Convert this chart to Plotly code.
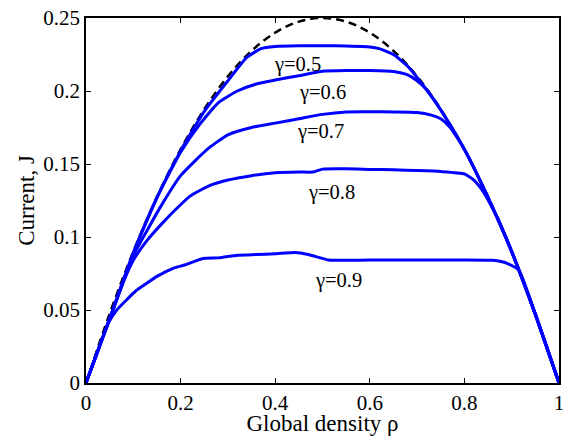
import plotly.graph_objects as go

# Theoretical curve (dashed)
rho_dash = [0, 0.05, 0.1, 0.15, 0.2, 0.25, 0.3, 0.35, 0.4, 0.45, 0.5, 0.55, 0.6, 0.65, 0.7, 0.75, 0.8, 0.85, 0.9, 0.95, 1.0]
J_dash = [0, 0.0475, 0.09, 0.1275, 0.16, 0.1875, 0.21, 0.2275, 0.24, 0.2475, 0.25, 0.2475, 0.24, 0.2275, 0.21, 0.1875, 0.16, 0.1275, 0.09, 0.0475, 0]

rho_05 = [0, 0.05, 0.1, 0.15, 0.2, 0.25, 0.3, 0.34, 0.37, 0.4, 0.45, 0.5, 0.55, 0.6, 0.62, 0.65, 0.68, 0.71, 0.75, 0.8, 0.85, 0.9, 0.95, 1.0]
J_05 = [0, 0.044, 0.089, 0.127, 0.159, 0.186, 0.207, 0.223, 0.229, 0.2305, 0.231, 0.231, 0.2308, 0.2302, 0.229, 0.225, 0.217, 0.205, 0.187, 0.16, 0.127, 0.09, 0.047, 0]

rho_06 = [0, 0.05, 0.1, 0.15, 0.2, 0.24, 0.28, 0.32, 0.36, 0.4, 0.45, 0.5, 0.55, 0.6, 0.65, 0.68, 0.7, 0.72, 0.75, 0.8, 0.85, 0.9, 0.95, 1.0]
J_06 = [0, 0.044, 0.089, 0.127, 0.158, 0.177, 0.192, 0.2, 0.2048, 0.2075, 0.2105, 0.2135, 0.214, 0.214, 0.2133, 0.211, 0.207, 0.201, 0.187, 0.16, 0.127, 0.09, 0.047, 0]

rho_07 = [0, 0.05, 0.1, 0.13, 0.16, 0.2, 0.23, 0.26, 0.3, 0.35, 0.4, 0.45, 0.5, 0.55, 0.6, 0.65, 0.7, 0.73, 0.75, 0.77, 0.8, 0.85, 0.9, 0.95, 1.0]
J_07 = [0, 0.044, 0.087, 0.105, 0.122, 0.142, 0.152, 0.161, 0.17, 0.175, 0.178, 0.181, 0.184, 0.1857, 0.1858, 0.1857, 0.1853, 0.1835, 0.181, 0.175, 0.16, 0.127, 0.09, 0.047, 0]

rho_08 = [0, 0.05, 0.08, 0.1, 0.13, 0.16, 0.19, 0.22, 0.26, 0.3, 0.35, 0.4, 0.45, 0.48, 0.5, 0.55, 0.6, 0.65, 0.7, 0.75, 0.8, 0.82, 0.84, 0.87, 0.9, 0.95, 1.0]
J_08 = [0, 0.044, 0.07, 0.084, 0.098, 0.109, 0.119, 0.128, 0.135, 0.139, 0.142, 0.144, 0.1445, 0.1445, 0.1465, 0.1467, 0.1463, 0.146, 0.1455, 0.1448, 0.1432, 0.139, 0.131, 0.113, 0.09, 0.047, 0]

rho_09 = [0, 0.049, 0.065, 0.085, 0.105, 0.127, 0.15, 0.183, 0.21, 0.247, 0.28, 0.32, 0.36, 0.4, 0.442, 0.47, 0.512, 0.55, 0.6, 0.65, 0.7, 0.75, 0.8, 0.86, 0.89, 0.915, 0.95, 1.0]
J_09 = [0, 0.042, 0.05, 0.0567, 0.063, 0.068, 0.073, 0.0784, 0.081, 0.0853, 0.0857, 0.0875, 0.088, 0.0885, 0.0894, 0.088, 0.0843, 0.0841, 0.0842, 0.0842, 0.0843, 0.0843, 0.0843, 0.084, 0.082, 0.0773, 0.047, 0]

labels = ["γ=0.5", "γ=0.6", "γ=0.7", "γ=0.8", "γ=0.9"]
label_x = [0.448, 0.501, 0.495, 0.52, 0.533]
label_y = [0.2182, 0.1988, 0.1725, 0.1305, 0.0705]

x_ticks = [0, 0.2, 0.4, 0.6, 0.8, 1]
x_ticktext = ["0", "0.2", "0.4", "0.6", "0.8", "1"]
y_ticks = [0, 0.05, 0.1, 0.15, 0.2, 0.25]
y_ticktext = ["0", "0.05", "0.1", "0.15", "0.2", "0.25"]

FONT = "Liberation Serif"

fig = go.Figure()
fig.add_trace(go.Scatter(x=rho_dash, y=J_dash, mode="lines", line=dict(color="black", width=2.5, dash="8px,5px", shape="spline"), showlegend=False))
for xs, ys in [(rho_05, J_05), (rho_06, J_06), (rho_07, J_07), (rho_08, J_08), (rho_09, J_09)]:
    fig.add_trace(go.Scatter(x=xs, y=ys, mode="lines", line=dict(color="#0000ff", width=3, shape="spline", smoothing=0.5), showlegend=False))

for t, lx, ly in zip(labels, label_x, label_y):
    fig.add_annotation(x=lx, y=ly, text=t, showarrow=False, font=dict(family=FONT, size=20.5, color="black"))

axis_common = dict(showgrid=False, zeroline=False, showline=True, linecolor="black", linewidth=1.5,
                   mirror="ticks", ticks="inside", ticklen=5, tickcolor="black", tickwidth=1,
                   tickfont=dict(family=FONT, size=21, color="black"), automargin=False,
                   ticklabeloverflow="allow")
fig.update_xaxes(range=[0, 1], tickvals=x_ticks, ticktext=x_ticktext,
                 title=dict(text="Global density ρ", font=dict(family=FONT, size=23, color="black"), standoff=6),
                 **axis_common)
fig.update_yaxes(range=[0, 0.25], tickvals=y_ticks, ticktext=y_ticktext,
                 title=dict(text="Current, J", font=dict(family=FONT, size=23, color="black"), standoff=2),
                 **axis_common)
fig.update_layout(width=563, height=436, margin=dict(l=86, r=4, t=18, b=53),
                  plot_bgcolor="white", paper_bgcolor="white")
fig.write_html("out.html", config={"displayModeBar": False},
               post_script="document.body.style.margin='0';document.body.style.overflow='hidden';")
